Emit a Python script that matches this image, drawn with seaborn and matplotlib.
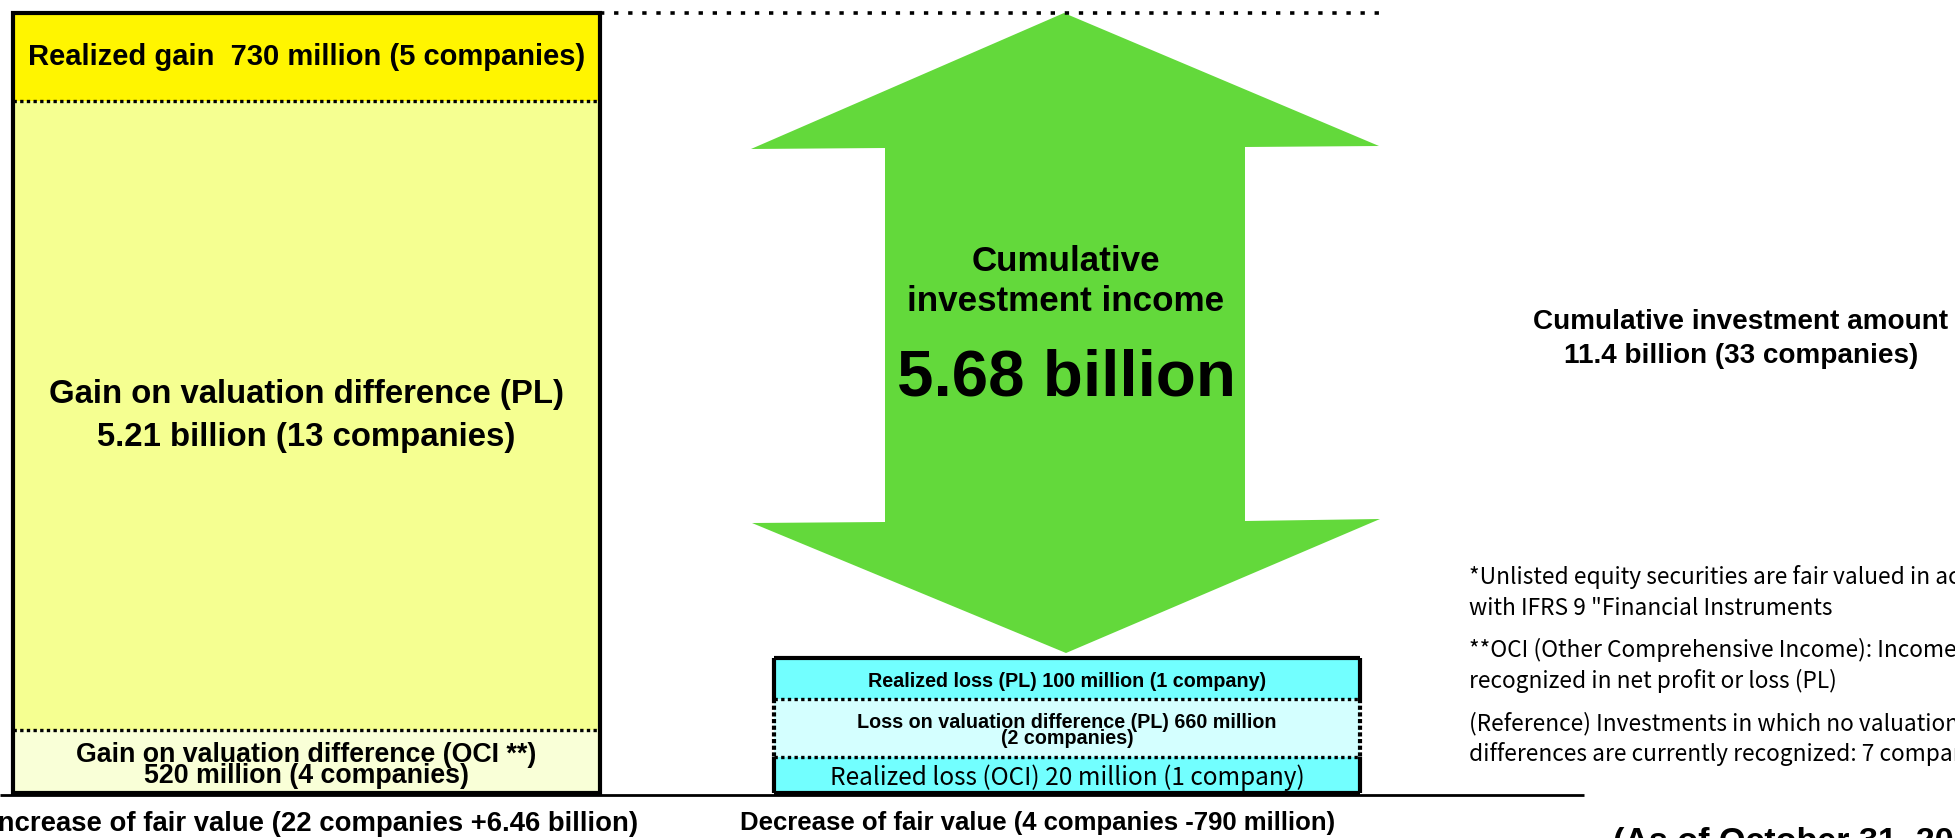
import matplotlib
matplotlib.use("Agg")
import matplotlib.pyplot as plt
import seaborn as sns

# amounts in million yen, stacked bottom -> top
gain_values = [520, 5210, 730]
gain_labels = [
    ["Gain on valuation difference (OCI **)", "520 million (4 companies)"],
    ["Gain on valuation difference (PL)", "5.21 billion (13 companies)"],
    ["Realized gain  730 million (5 companies)"],
]
gain_colors = ["#F9FFD7", "#F5FF91", "#FFF500"]

loss_values = [20, 660, 100]
loss_labels = [
    ["Realized loss (OCI) 20 million (1 company)"],
    ["Loss on valuation difference (PL) 660 million", "(2 companies)"],
    ["Realized loss (PL) 100 million (1 company)"],
]
loss_colors = ["#72FFFF", "#D4FFFF", "#72FFFF"]

income_label = ["Cumulative", "investment income"]
income_total = "5.68 billion"
increase_label = "Increase of fair value (22 companies +6.46 billion)"
decrease_label = "Decrease of fair value (4 companies -790 million)"
invest_label = ["Cumulative investment amount", "11.4 billion (33 companies)"]
notes = [
    ["*Unlisted equity securities are fair valued in accordance",
     "with IFRS 9 \"Financial Instruments"],
    ["**OCI (Other Comprehensive Income): Income not",
     "recognized in net profit or loss (PL)"],
    ["(Reference) Investments in which no valuation",
     "differences are currently recognized: 7 companies"],
]
as_of = "(As of October 31, 2023)"

# ---- layout (pixels of the 1955x838 canvas) ----
W, H, DPI = 1955, 838, 100
BASE_PX, TOP_PX = 793, 13
PX_PER_M = (BASE_PX - TOP_PX) / sum(gain_values)


def ym(py):
    # pixel row -> value axis (million yen)
    return (BASE_PX - py) / PX_PER_M


LEFT_X0, LEFT_X1 = 13, 600
RIGHT_X0, RIGHT_X1 = 774, 1360
LOSS_ROW_PX = [36, 58, 41]          # drawn heights of the loss rows, bottom -> top
GREEN = "#63D93B"

sns.set_theme(style="white")
plt.rcParams["font.family"] = ["Liberation Sans", "DejaVu Sans"]
plt.rcParams["text.color"] = "black"

fig = plt.figure(figsize=(W / DPI, H / DPI), dpi=DPI)
ax = fig.add_axes([0, 0, 1, 1])
ax.set_xlim(0, W)
ax.set_ylim(ym(H), ym(0))
ax.axis("off")
fig.canvas.draw()
renderer = fig.canvas.get_renderer()

BOLD = dict(family=["Liberation Sans", "DejaVu Sans"], weight="bold")
THIN = dict(family=["Noto Sans CJK JP", "DejaVu Sans"])


def fit_size(s, width, **kw):
    t = ax.text(0, 0, s, fontsize=20, **kw)
    w = t.get_window_extent(renderer).width
    t.remove()
    return 20 * width / w


def put(x, y_px, s, size, ha="center", **kw):
    base = y_px + 0.36 * size * DPI / 72
    ax.text(x, ym(base), s, fontsize=size, ha=ha, va="baseline",
            color="black", zorder=5, **kw)


# ---- left stack: increase of fair value ----
left_c = (LEFT_X0 + LEFT_X1) / 2
bottoms = [sum(gain_values[:i]) for i in range(len(gain_values))]
ax.bar(left_c, gain_values, bottom=bottoms, width=LEFT_X1 - LEFT_X0,
       color=gain_colors, linewidth=0, zorder=1)
for b in bottoms[1:]:
    ax.hlines(b, LEFT_X0, LEFT_X1, colors="black", lw=2.4,
              linestyles=(0, (1, 1)), zorder=2)
ax.bar(left_c, sum(gain_values), width=LEFT_X1 - LEFT_X0, fill=False,
       edgecolor="black", linewidth=3, zorder=3)

# (target width, line pitch, nudge) for each segment's label
gain_fit = [(460, 21, 1), (516, 43, -3), (556, 0, -3)]
for vals, lines, (wid, pitch, nudge), b in zip(gain_values, gain_labels, gain_fit, bottoms):
    size = fit_size(lines[0], wid, **BOLD)
    cy = BASE_PX - (b + vals / 2) * PX_PER_M + nudge
    y0 = cy - pitch * (len(lines) - 1) / 2
    for i, line in enumerate(lines):
        put(left_c, y0 + i * pitch, line, size, **BOLD)

# top dotted guide
ax.hlines(sum(gain_values), LEFT_X1, 1388, colors="black", lw=2.6,
          linestyles=(0, (1.2, 2.7)), zorder=2)

# ---- double arrow ----
arrow_x = [885, 751, 1064, 1379, 1245, 1245, 1380, 1066, 752, 885]
arrow_y = [148, 149, 13, 146, 147, 521, 519, 653, 523, 522]
ax.fill(arrow_x, [ym(v) for v in arrow_y], color=GREEN, lw=0, zorder=1)

s_inc = fit_size(income_label[1], 317, **BOLD)
put(1066, 258, income_label[0], s_inc, **BOLD)
put(1066, 298, income_label[1], s_inc, **BOLD)
put(1066, 372, income_total, fit_size(income_total, 338, **BOLD), **BOLD)

# ---- right stack: decrease of fair value ----
right_c = (RIGHT_X0 + RIGHT_X1) / 2
row_edges = [BASE_PX]
for h in LOSS_ROW_PX:
    row_edges.append(row_edges[-1] - h)
row_bottoms = [ym(p) for p in row_edges[:-1]]
row_heights = [ym(row_edges[i + 1]) - ym(row_edges[i]) for i in range(len(LOSS_ROW_PX))]
ax.bar(right_c, row_heights, bottom=row_bottoms, width=RIGHT_X1 - RIGHT_X0,
       color=loss_colors, linewidth=0, zorder=1)
for p in row_edges[1:-1]:
    ax.hlines(ym(p), RIGHT_X0, RIGHT_X1, colors="black", lw=2.4,
              linestyles=(0, (1, 1)), zorder=2)
top_px = row_edges[-1]
ax.hlines(ym(top_px), RIGHT_X0, RIGHT_X1, colors="black", lw=3, zorder=3)
ax.hlines(ym(BASE_PX), RIGHT_X0, RIGHT_X1, colors="black", lw=3, zorder=3)
for xe in (RIGHT_X0, RIGHT_X1):
    ax.vlines(xe, ym(row_edges[1]), ym(row_edges[0]), colors="black", lw=3, zorder=3)
    ax.vlines(xe, ym(row_edges[3]), ym(row_edges[2]), colors="black", lw=3, zorder=3)
    ax.vlines(xe, ym(row_edges[2]), ym(row_edges[1]), colors="black", lw=3,
              linestyles=(0, (1, 0.6)), zorder=3)

loss_fit = [(474, 0, THIN), (420, 16, BOLD), (399, 0, BOLD)]
for i, (lines, (wid, pitch, fnt)) in enumerate(zip(loss_labels, loss_fit)):
    size = fit_size(lines[0], wid, **fnt)
    cy = (row_edges[i] + row_edges[i + 1]) / 2 + 1
    y0 = cy - pitch * (len(lines) - 1) / 2
    for j, line in enumerate(lines):
        put(right_c, y0 + j * pitch, line, size, **fnt)

# baseline
ax.hlines(ym(795), 0, 1584, colors="black", lw=2, zorder=4)

# group labels under the stacks
put(638, 821, increase_label, fit_size(increase_label, 648, **BOLD), ha="right", **BOLD)
put(740, 821, decrease_label, fit_size(decrease_label, 596, **BOLD), ha="left", **BOLD)

# ---- right-hand texts ----
s_inv = fit_size(invest_label[0], 414, **BOLD)
put(1741, 319, invest_label[0], s_inv, **BOLD)
put(1741, 353, invest_label[1], s_inv, **BOLD)

s_note = fit_size(notes[1][1], 368, **THIN)
note_y = [(576, 607), (649, 680), (722, 753)]
for lines, ys in zip(notes, note_y):
    for line, y in zip(lines, ys):
        put(1469, y, line, s_note, ha="left", **THIN)

ax.text(1613, ym(851), as_of, fontsize=24.5, ha="left", va="baseline",
        color="black", **BOLD)

fig.savefig("out.png", dpi=DPI)
